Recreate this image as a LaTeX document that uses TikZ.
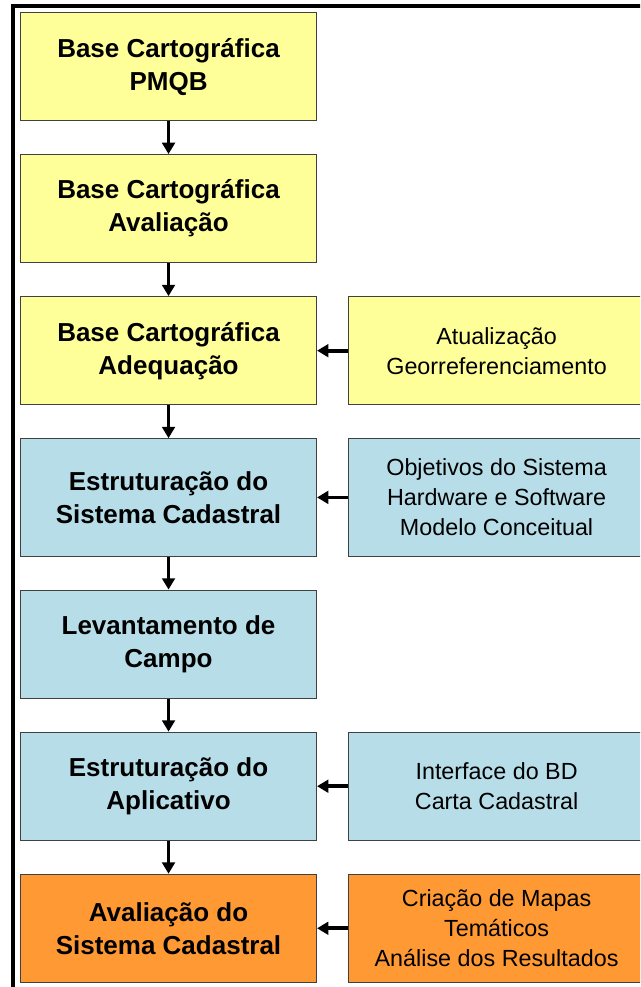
\documentclass[tikz,border=0pt]{standalone}
\usepackage{fontspec}
\setmainfont{Liberation Sans}
\usetikzlibrary{positioning, arrows.meta}
\definecolor{amarelo}{HTML}{FFFF99}
\definecolor{azul}{HTML}{B7DEE8}
\definecolor{laranja}{HTML}{FF9933}
\begin{document}
\begin{tikzpicture}[node distance=24.75pt and 23.25pt, every node/.style={draw=black!75, line width=0.8pt, align=center, minimum width=222pt, minimum height=81pt, inner sep=0pt}, passo/.style={font=\bfseries\fontsize{19.5}{24.75}\selectfont}, apoio/.style={font=\fontsize{17.5}{22.5}\selectfont}, arrow/.style={-{Triangle[width=9.5pt,length=8.5pt]}, line width=2.8pt}]
      \useasboundingbox (0,0) rectangle (480pt,-740.25pt); \clip (0,0) rectangle (480pt,-740.25pt);
      \draw[line width=2.6pt] (9.75pt,-4.5pt) rectangle (500pt,-760pt);

      \node[passo, fill=amarelo, anchor=north west] (base1) at (15pt,-9pt) {Base Cartográfica\\PMQB}; \node[passo, fill=amarelo, below=of base1] (base2) {Base Cartográfica\\Avaliação}; \node[passo, fill=amarelo, below=of base2] (base3) {Base Cartográfica\\Adequação};
      \node[passo, fill=azul, minimum height=88pt, below=of base3] (estrut) {Estruturação do\\Sistema Cadastral}; \node[passo, fill=azul, below=of estrut] (levant) {Levantamento de\\Campo}; \node[passo, fill=azul, below=of levant] (aplic) {Estruturação do\\Aplicativo};
      \node[passo, fill=laranja, below=of aplic] (aval) {Avaliação do\\Sistema Cadastral};

      \node[apoio, fill=amarelo, right=of base3] (atual) {Atualização\\Georreferenciamento}; \node[apoio, fill=azul, minimum height=88pt, right=of estrut] (objet) {Objetivos do Sistema\\Hardware e Software\\Modelo Conceitual}; \node[apoio, fill=azul, right=of aplic] (interf) {Interface do BD\\Carta Cadastral}; \node[apoio, fill=laranja, right=of aval] (criac) {Criação de Mapas\\Temáticos\\Análise dos Resultados};

      \draw[arrow] (base1) -- (base2); \draw[arrow] (base2) -- (base3); \draw[arrow] (base3) -- (estrut); \draw[arrow] (estrut) -- (levant); \draw[arrow] (levant) -- (aplic); \draw[arrow] (aplic) -- (aval);
      \draw[arrow] (atual) -- (base3); \draw[arrow] (objet) -- (estrut); \draw[arrow] (interf) -- (aplic); \draw[arrow] (criac) -- (aval);
    \end{tikzpicture}
\end{document}
